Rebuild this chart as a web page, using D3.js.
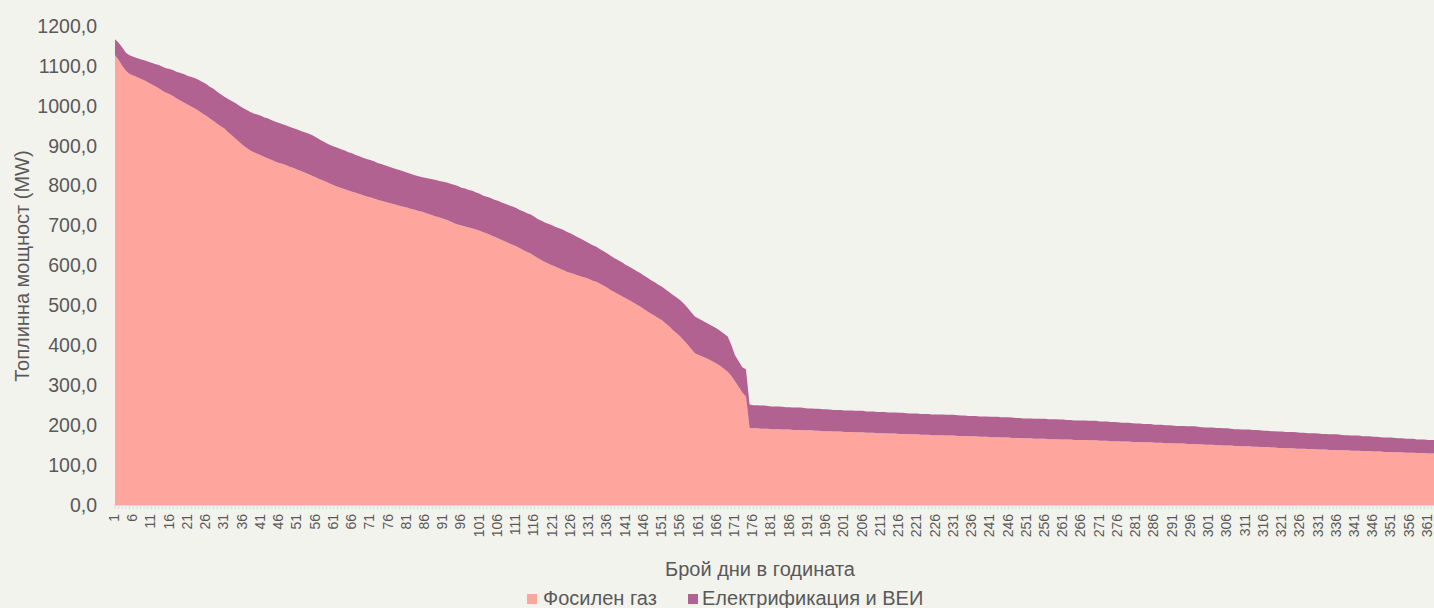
<!DOCTYPE html>
<html>
<head>
<meta charset="utf-8">
<script src="https://cdn.jsdelivr.net/npm/d3@7"></script>
<style>
  body { margin: 0; background: #f3f3ee; }
  svg { display: block; font-family: "Liberation Sans", Arial, sans-serif; }
</style>
</head>
<body>
<svg id="chart"></svg>
<script>
// heat load duration curve, stacked: fossil gas + electrification/RES

// series names
const seriesNames = ["Фосилен газ", "Електрификация и ВЕИ"];

// fossil gas, MW, day 1..365 (sorted duration curve)
const gasValues = [
  1127, 1115, 1100, 1088, 1080, 1076, 1072, 1068, 1064, 1059,
  1054, 1049, 1044, 1038, 1033, 1029, 1024, 1018, 1013, 1008,
  1003, 998, 993, 987, 981, 975, 968, 962, 955, 949,
  943, 934, 926, 918, 910, 902, 895, 889, 884, 880,
  876, 872, 868, 864, 860, 857, 854, 851, 847, 844,
  840, 837, 833, 829, 825, 821, 817, 813, 809, 805,
  801, 797, 794, 791, 788, 785, 782, 779, 776, 773,
  771, 768, 765, 762, 760, 757, 755, 752, 750, 747,
  745, 742, 740, 737, 735, 732, 729, 726, 723, 720,
  717, 714, 710, 706, 703, 700, 698, 695, 693, 690,
  687, 683, 680, 676, 672, 668, 664, 660, 656, 652,
  648, 643, 638, 634, 630, 624, 618, 613, 608, 604,
  600, 596, 592, 588, 584, 581, 578, 575, 572, 569,
  566, 562, 559, 554, 549, 544, 538, 533, 528, 523,
  518, 513, 508, 502, 497, 491, 485, 479, 474, 468,
  463, 455, 447, 438, 430, 422, 412, 402, 391, 380,
  376, 372, 368, 364, 359, 354, 348, 341, 334, 323,
  310, 296, 282, 272, 193,
  192, 192, 191, 191, 191, 190, 190, 190, 189, 189, 189, 188, 188, 188, 187,
  187, 187, 186, 186, 185, 185, 185, 184, 184, 184,
  183, 183, 183, 182, 182, 182, 181, 181, 181, 180, 180, 180, 179, 179, 179,
  178, 178, 178, 177, 177, 177, 176, 176, 176, 175, 175, 175,
  175, 174, 174, 174, 173, 173, 173, 172, 172, 172, 171, 171, 171, 170, 170,
  170, 169, 169, 169, 168, 168, 168, 167, 167, 167, 166, 166, 166, 166, 165,
  165, 165, 164, 164, 164, 164, 163, 163, 163, 163,
  162, 162, 162, 161, 161, 161, 160, 160, 160, 159, 159, 159, 158, 158, 158,
  157, 157, 157, 156, 156, 156, 155, 155, 155, 154, 154, 154,
  153, 153, 153, 152, 152, 151, 151, 151, 150, 150, 149, 149, 149, 148, 148,
  147, 147, 147, 146, 146, 145, 145, 145, 144, 144, 143, 143, 142,
  142, 142, 141, 141, 141, 140, 140, 140, 139, 139, 139, 138, 138, 138, 137,
  137, 137, 136, 136, 136, 135, 135, 135, 134, 134, 134, 133, 133, 133, 132,
  132, 132, 131, 131, 131, 130, 130, 130, 129, 129, 129, 128, 128
];

// electrification and RES, MW, day 1..365
const elecValues = [
  40, 43, 46, 45, 47, 47, 48, 49, 50, 52,
  54, 56, 58, 60, 61, 63, 65, 67, 69, 71,
  72, 74, 76, 78, 79, 80, 80, 81, 80, 80,
  80, 83, 86, 89, 91, 93, 95, 96, 97, 98,
  99, 99, 100, 100, 100, 100, 100, 100, 100, 100,
  101, 100, 101, 102, 102, 101, 99, 98, 97, 97,
  97, 98, 97, 97, 96, 96, 95, 95, 94, 94,
  93, 93, 92, 92, 91, 91, 90, 90, 89, 89,
  88, 88, 87, 87, 87, 88, 89, 90, 91, 92,
  93, 94, 95, 96, 96, 95, 95, 94, 94, 93,
  93, 92, 92, 93, 93, 94, 94, 95, 95, 96,
  96, 96, 97, 97, 98, 98, 98, 99, 99, 100,
  100, 100, 101, 101, 100, 99, 97, 95, 94, 92,
  90, 89, 88, 87, 87, 86, 86, 85, 85, 85,
  84, 84, 84, 84, 84, 84, 84, 84, 84, 84,
  84, 85, 86, 88, 90, 91, 92, 92, 92, 92,
  91, 90, 89, 88, 88, 88, 88, 88, 88, 78,
  65, 64, 63, 68, 59,
  58, 58, 58, 58, 57, 57, 57, 57, 57, 56, 56, 56, 56, 56, 56,
  55, 55, 55, 55, 55, 55, 54, 54, 54, 54,
  54, 54, 54, 54, 54, 54, 53, 53, 53, 53, 53, 53, 53, 53, 53,
  53, 53, 52, 52, 52, 52, 52, 52, 52, 52, 52, 52,
  52, 52, 52, 52, 52, 51, 51, 51, 51, 51, 51, 51, 51, 51, 51,
  51, 51, 51, 51, 51, 50, 50, 50, 50, 50, 50, 50, 50, 50, 50,
  50, 50, 50, 50, 49, 49, 49, 49, 49, 49,
  49, 49, 49, 48, 48, 48, 48, 48, 47, 47, 47, 47, 47, 46, 46,
  46, 46, 46, 45, 45, 45, 45, 45, 44, 44, 44, 44,
  44, 44, 44, 44, 43, 43, 43, 43, 43, 43, 43, 43, 42, 42, 42,
  42, 42, 42, 42, 42, 42, 41, 41, 41, 41, 41, 41, 41,
  41, 41, 41, 40, 40, 40, 40, 40, 40, 39, 39, 39, 39, 39, 39,
  38, 38, 38, 38, 38, 37, 37, 37, 37, 37, 36, 36, 36, 36, 36,
  35, 35, 35, 35, 35, 34, 34, 34, 34, 34, 34, 34, 34
];

// y tick values
const yTicks = [0, 100, 200, 300, 400, 500, 600, 700, 800, 900, 1000, 1100, 1200];

// colors
const gasColor = "#fea59d";
const elecColor = "#b16290";
const textColor = "#595959";

// svg
let win = {w: 1434, h: 608};
const svg = d3.select("#chart")
  .attr("width", win.w)
  .attr("height", win.h);

svg.append("rect")
  .attr("width", win.w).attr("height", win.h)
  .attr("fill", "#f3f3ee");

// plot box (day 365 runs past the right edge, as in the reference)
let plot = {left: 115, top: 26, bottom: 505, dayW: 3.647};

const days = d3.range(1, gasValues.length + 1);
const rows = days.map((d, i) => ({day: d, gas: gasValues[i], elec: elecValues[i]}));

const x = d3.scaleLinear()
  .domain([1, 365])
  .range([plot.left, plot.left + 364 * plot.dayW]);
const y = d3.scaleLinear()
  .domain([0, 1200])
  .range([plot.bottom, plot.top]);

const stacked = d3.stack().keys(["gas", "elec"])(rows);

const area = d3.area()
  .x(d => x(d.data.day))
  .y0(d => y(d[0]))
  .y1(d => y(d[1]));

svg.append("g")
  .selectAll("path")
  .data(stacked)
  .join("path")
  .attr("d", area)
  .attr("fill", (d, i) => i === 0 ? gasColor : elecColor);

// x axis line + small ticks
svg.append("line")
  .attr("x1", plot.left).attr("x2", win.w)
  .attr("y1", plot.bottom + 0.5).attr("y2", plot.bottom + 0.5)
  .attr("stroke", "#d9d9d9");

svg.append("g")
  .selectAll("line")
  .data(days)
  .join("line")
  .attr("x1", d => x(d)).attr("x2", d => x(d))
  .attr("y1", plot.bottom).attr("y2", plot.bottom + 4)
  .attr("stroke", "#dcdcdc")
  .attr("stroke-width", 1);

// x tick labels, every 5th day, rotated
svg.append("g")
  .selectAll("text")
  .data(days.filter(d => (d - 1) % 5 === 0))
  .join("text")
  .attr("transform", d => `translate(${x(d) + 4},${plot.bottom + 9}) rotate(-90)`)
  .attr("text-anchor", "end")
  .attr("font-size", 14)
  .attr("fill", textColor)
  .text(d => d);

// y tick labels
const fmt = v => d3.format(".1f")(v).replace(".", ",");
svg.append("g")
  .selectAll("text")
  .data(yTicks)
  .join("text")
  .attr("x", 97)
  .attr("y", d => y(d))
  .attr("dy", "0.35em")
  .attr("text-anchor", "end")
  .attr("font-size", 19.5)
  .attr("fill", textColor)
  .text(d => fmt(d));

// axis titles
svg.append("text")
  .attr("transform", `translate(29,266) rotate(-90)`)
  .attr("text-anchor", "middle")
  .attr("font-size", 20)
  .attr("fill", textColor)
  .text("Топлинна мощност (MW)");

svg.append("text")
  .attr("x", 760)
  .attr("y", 576)
  .attr("text-anchor", "middle")
  .attr("font-size", 20)
  .attr("fill", textColor)
  .text("Брой дни в годината");

// legend
let legend = [{x: 527, tx: 543, color: gasColor}, {x: 688, tx: 702, color: elecColor}];
legend.forEach((l, i) => {
  svg.append("rect")
    .attr("x", l.x).attr("y", 594)
    .attr("width", 10).attr("height", 10)
    .attr("fill", l.color);
  svg.append("text")
    .attr("x", l.tx).attr("y", 605)
    .attr("font-size", 20)
    .attr("fill", textColor)
    .text(seriesNames[i]);
});
</script>
</body>
</html>
